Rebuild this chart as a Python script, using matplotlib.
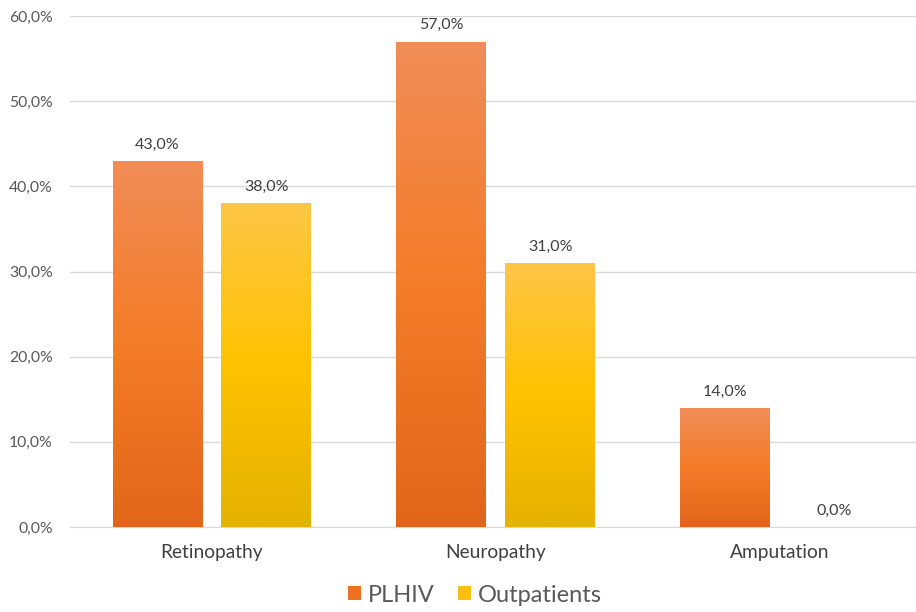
import matplotlib
matplotlib.use("Agg")
import matplotlib.pyplot as plt
import numpy as np
from matplotlib.colors import LinearSegmentedColormap
from matplotlib.patches import Patch

categories = ["Retinopathy", "Neuropathy", "Amputation"]
series_names = ["PLHIV", "Outpatients"]
plhiv = [43.0, 57.0, 14.0]
outpatients = [38.0, 31.0, 0.0]
yticks = [0, 10, 20, 30, 40, 50, 60]

plt.rcParams['font.family'] = ['Lato', 'DejaVu Sans']
txt = '#595959'

fig = plt.figure(figsize=(9.16, 6.12), dpi=100)
ax = fig.add_axes([70/916, 1-527/612, 1-70/916, (527-16)/612])

x = np.arange(len(categories))
w = 0.317
off = 0.1915
grads = [
    LinearSegmentedColormap.from_list('o', ['#E2661A', '#F47C28', '#F08D58']),
    LinearSegmentedColormap.from_list('y', ['#E4B200', '#FFC200', '#FDC646']),
]
solid = ['#EE7222', '#FBC010']
for si, vals in enumerate([plhiv, outpatients]):
    xs = x - off if si == 0 else x + off
    bars = ax.bar(xs, vals, width=w, color=solid[si], zorder=2, linewidth=0)
    for b, v in zip(bars, vals):
        if v > 0:
            x0 = b.get_x()
            g = np.linspace(0, 1, 256).reshape(-1, 1)
            im = ax.imshow(g, cmap=grads[si], origin='lower', aspect='auto',
                           extent=[x0, x0 + w, 0, v], zorder=3)
            im.set_clip_path(b)
        ax.text(b.get_x() + w/2, v + 1.1, f"{v:.1f}%".replace('.', ','),
                ha='center', va='bottom', fontsize=11.5, color='#404040', zorder=4)

ax.set_xlim(-0.5, 2.48)
ax.set_ylim(0, 60)
ax.set_yticks(yticks)
ax.set_yticklabels([f"{t:.1f}%".replace('.', ',') for t in yticks], fontsize=11.3, color=txt)
ax.set_xticks(x)
ax.set_xticklabels(categories, fontsize=13.8, color='#404040')
ax.tick_params(axis='both', length=0)
ax.tick_params(axis='x', pad=12)
ax.tick_params(axis='y', pad=12.5)
ax.grid(axis='y', color='#D9D9D9', linewidth=1, zorder=0)
ax.set_axisbelow(True)
for s in ['top', 'right', 'left']:
    ax.spines[s].set_visible(False)
ax.spines['bottom'].set_color('#D9D9D9')

handles = [Patch(facecolor=solid[0]), Patch(facecolor=solid[1])]
fig.legend(handles, series_names, loc='center', bbox_to_anchor=(475/916, 1-595/612),
           ncol=2, frameon=False, fontsize=17, handlelength=0.55, handleheight=0.55,
           handletextpad=0.3, columnspacing=1.0, labelcolor=txt)

fig.savefig('out.png', dpi=100)
